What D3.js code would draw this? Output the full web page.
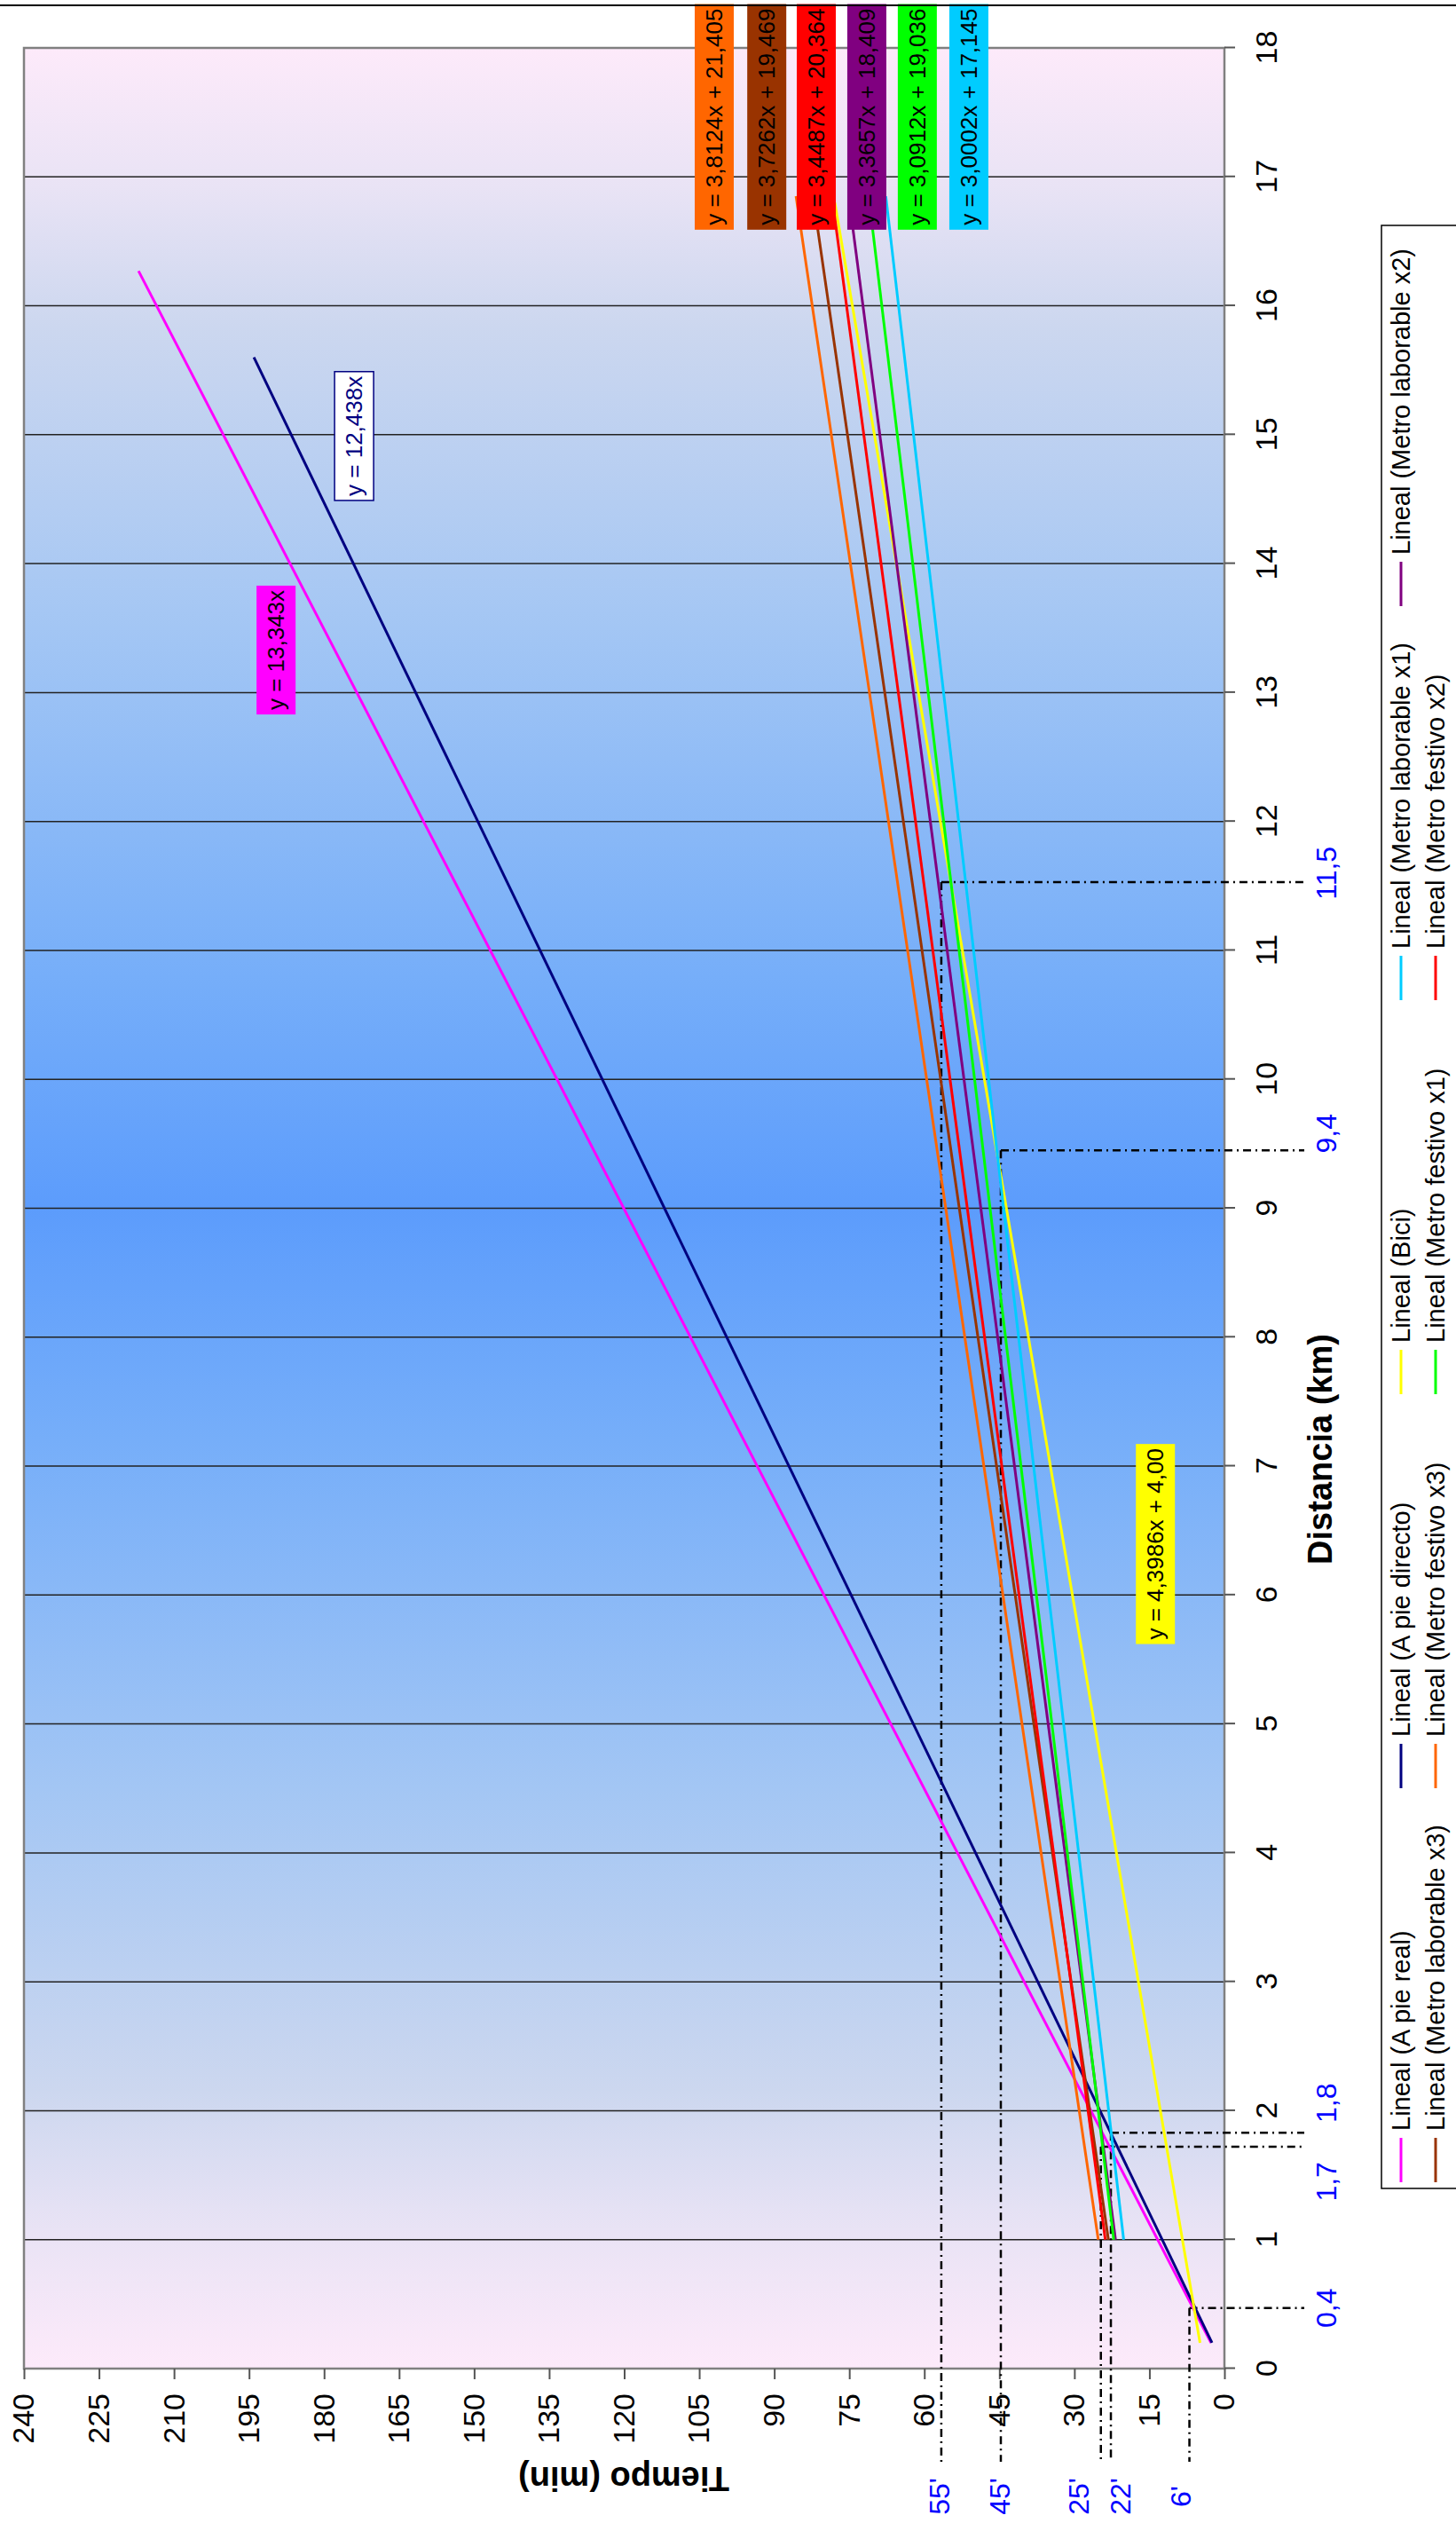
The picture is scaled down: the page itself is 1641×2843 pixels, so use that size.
<!DOCTYPE html>
<html><head><meta charset="utf-8">
<script src="https://cdn.jsdelivr.net/npm/d3@7/dist/d3.min.js"></script>
<style>body{margin:0;background:#fff}svg{display:block}</style>
</head><body>
<svg id="c" width="1641" height="2843"></svg>
<script>
// ---------- data ----------
const kmTicks = [0,1,2,3,4,5,6,7,8,9,10,11,12,13,14,15,16,17,18];
const minTicks = [0,15,30,45,60,75,90,105,120,135,150,165,180,195,210,225,240];
const seriesNames = ["Lineal (A pie real)","Lineal (A pie directo)","Lineal (Bici)",
  "Lineal (Metro laborable x1)","Lineal (Metro laborable x2)","Lineal (Metro laborable x3)",
  "Lineal (Metro festivo x3)","Lineal (Metro festivo x1)","Lineal (Metro festivo x2)"];
const slopes     = [13.343, 12.438, 4.3986, 3.0002, 3.3657, 3.7262, 3.8124, 3.0912, 3.4487];
const intercepts = [0, 0, 4.00, 17.145, 18.409, 19.469, 21.405, 19.036, 20.364];
const kmFrom     = [0.2, 0.2, 0.2, 1, 1, 1, 1, 1, 1];
const kmTo       = [16.27, 15.6, 16.8, 16.85, 16.85, 16.85, 16.85, 16.85, 16.85];
const seriesColors = ["#ff00ff","#000080","#ffff00","#00ccff","#800080","#993300","#ff6600","#00ff00","#ff0000"];

// equation labels (series index, text, anchor km / min of box corner)
const eqSeries = [0, 1, 2, 6, 5, 8, 4, 7, 3];
const eqText = ["y = 13,343x","y = 12,438x","y = 4,3986x + 4,00",
  "y = 3,8124x + 21,405","y = 3,7262x + 19,469","y = 3,4487x + 20,364",
  "y = 3,3657x + 18,409","y = 3,0912x + 19,036","y = 3,0002x + 17,145"];
const eqKm  = [12.83, 14.49, 5.62, 16.59, 16.59, 16.59, 16.59, 16.59, 16.59];
const eqMin = [193.5, 177.9, 17.7, 105.9, 95.4, 85.5, 75.4, 65.3, 55.0];

// reference (dash-dot) points
const refKm  = [0.47, 1.72, 1.83, 9.45, 11.53];
const refMin = [7, 24.7, 22.7, 44.7, 56.6];
const kmNotes = ["0,4","1,7","1,8","9,4","11,5"];
const kmNotesAt = [0.47, 1.45, 2.06, 9.58, 11.6];
const minNotes = ["6'","25'","22'","45'","55'"];
const minNotesAt = [8.8, 29.3, 20.9, 45.0, 57.1];

// ---------- layout ----------
const FONT = "'Liberation Sans', Arial, sans-serif";
const W = 2843, H = 1641;              // unrotated frame
const L = 174, R = 2789, T = 27, B = 1380;

const svg = d3.select("#c");
const defs = svg.append("defs");
const grad = defs.append("linearGradient").attr("id","bg").attr("x1",0).attr("x2",1).attr("y1",0).attr("y2",0);
[[0,"#fdeafa"],[0.06,"#e9e3f5"],[0.12,"#ccd7ef"],[0.25,"#a3c6f4"],[0.4,"#76aef9"],[0.5,"#5c9cfc"],
 [0.6,"#76aef9"],[0.75,"#a3c6f4"],[0.88,"#ccd7ef"],[0.94,"#e9e3f5"],[1,"#fdeafa"]]
 .forEach(s=>grad.append("stop").attr("offset",s[0]).attr("stop-color",s[1]));

const g = svg.append("g").attr("transform",`translate(0,${W}) rotate(-90)`);

const x = d3.scaleLinear().domain([0,18]).range([L,R]);
const y = d3.scaleLinear().domain([0,240]).range([B,T]);

// plot background
g.append("rect").attr("x",L).attr("y",T).attr("width",R-L).attr("height",B-T).attr("fill","url(#bg)");

// gridlines
g.append("g").selectAll("line").data(kmTicks.filter(d=>d>0&&d<18)).join("line")
  .attr("x1",d=>x(d)).attr("x2",d=>x(d)).attr("y1",T).attr("y2",B)
  .attr("stroke","#222").attr("stroke-width",1.5);

// plot border
g.append("rect").attr("x",L).attr("y",T).attr("width",R-L).attr("height",B-T)
  .attr("fill","none").attr("stroke","#808080").attr("stroke-width",2.5);

// axes
const ax = g.append("g").attr("transform",`translate(0,${B})`)
  .call(d3.axisBottom(x).tickValues(kmTicks).tickFormat(d=>String(d)).tickSize(12).tickPadding(23));
const ay = g.append("g").attr("transform",`translate(${L},0)`)
  .call(d3.axisLeft(y).tickValues(minTicks).tickFormat(d=>String(d)).tickSize(12).tickPadding(16));
[ax,ay].forEach(a=>{
  a.select(".domain").remove();
  a.selectAll(".tick line").attr("stroke","#555").attr("stroke-width",2);
  a.selectAll(".tick text").attr("font-family",FONT).attr("font-size",34).attr("fill","#000");
});

// dash-dot reference lines
const rl = g.append("g").attr("stroke","#000").attr("stroke-width",2.5).attr("stroke-dasharray","9,5,2,5").attr("fill","none");
refKm.forEach((k,i)=>{
  rl.append("path").attr("d",`M${x(k)},${y(refMin[i])}L${x(k)},1470`);
  rl.append("path").attr("d",`M${x(k)},${y(refMin[i])}L69,${y(refMin[i])}`);
});

// trend lines
const line = d3.line().x(d=>x(d[0])).y(d=>y(d[1]));
seriesNames.forEach((n,i)=>{
  const pts = [kmFrom[i], kmTo[i]].map(k=>[k, slopes[i]*k + intercepts[i]]);
  g.append("path").attr("d",line(pts)).attr("stroke",seriesColors[i]).attr("stroke-width",3).attr("fill","none");
});

// equation labels
eqSeries.forEach((s,i)=>{
  const bx = x(eqKm[i]), by = y(eqMin[i]);
  const isNavy = s===1;
  const grp = g.append("g");
  const rect = grp.append("rect").attr("x",bx).attr("y",by).attr("height",44)
    .attr("fill", isNavy ? "#fff" : seriesColors[s])
    .attr("stroke", isNavy ? "#000080" : "none").attr("stroke-width",1.5);
  const t = grp.append("text").attr("x",bx+5).attr("y",by+31).text(eqText[i])
    .attr("font-family",FONT).attr("font-size",26).attr("fill", isNavy ? "#000080" : "#000");
  rect.attr("width", t.node().getComputedTextLength()+10);
});

// blue notes
g.append("g").selectAll("text").data(kmNotes).join("text")
  .attr("x",(d,i)=>x(kmNotesAt[i])).attr("y",1506).attr("text-anchor","middle")
  .attr("font-family",FONT).attr("font-size",32).attr("fill","#0000ff").text(d=>d);
g.append("g").selectAll("text").data(minNotes).join("text")
  .attr("x",30).attr("y",(d,i)=>y(minNotesAt[i])+12).attr("text-anchor","middle")
  .attr("font-family",FONT).attr("font-size",32).attr("fill","#0000ff").text(d=>d);

// axis titles
g.append("text").attr("x",1210).attr("y",1501).attr("text-anchor","middle")
  .attr("font-family",FONT).attr("font-size",38).attr("font-weight","bold").text("Distancia (km)");
g.append("text").attr("transform","translate(63,703) rotate(-90)").attr("text-anchor","middle")
  .attr("font-family",FONT).attr("font-size",38).attr("font-weight","bold").text("Tiempo (min)");

// legend
const lg = g.append("g");
lg.append("rect").attr("x",377).attr("y",1557).attr("width",2589-377).attr("height",120)
  .attr("fill","#fff").attr("stroke","#000").attr("stroke-width",1.5);
seriesNames.forEach((n,i)=>{
  const col = i%5, row = Math.floor(i/5);
  const lx = 384 + col*444, ly = row===0 ? 1579 : 1618;
  lg.append("line").attr("x1",lx).attr("x2",lx+50).attr("y1",ly).attr("y2",ly)
    .attr("stroke",seriesColors[i]).attr("stroke-width",3);
  lg.append("text").attr("x",lx+58).attr("y",ly+10).text(n)
    .attr("font-family",FONT).attr("font-size",29).attr("fill","#000");
});

// chart border line
g.append("line").attr("x1",2837).attr("x2",2837).attr("y1",0).attr("y2",H).attr("stroke","#000").attr("stroke-width",2);
</script>
</body></html>
